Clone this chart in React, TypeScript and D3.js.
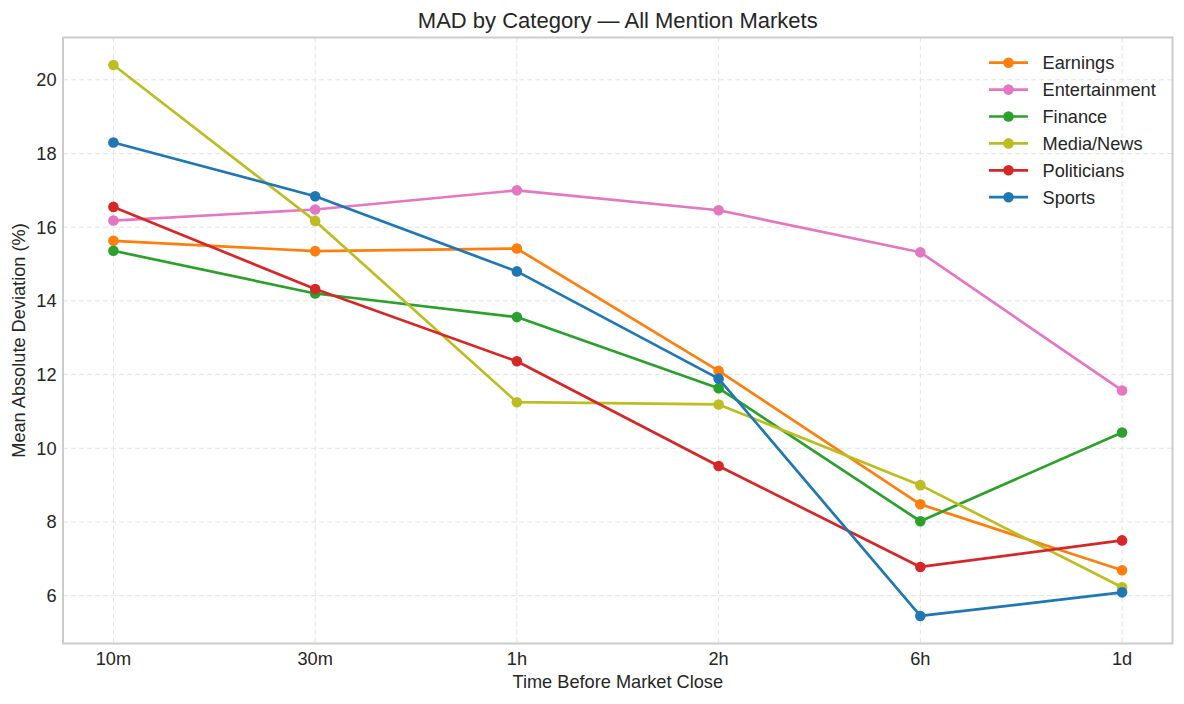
import React from 'react';
import * as d3 from 'd3';

const categories = ['10m', '30m', '1h', '2h', '6h', '1d'];

const seriesNames = ['Earnings', 'Entertainment', 'Finance', 'Media/News', 'Politicians', 'Sports'];
const seriesColors = ['#ff7f0e', '#e377c2', '#2ca02c', '#bcbd22', '#d62728', '#1f77b4'];

const earnings = [15.63, 15.35, 15.42, 12.1, 8.48, 6.69];
const entertainment = [16.18, 16.48, 17.0, 16.46, 15.32, 11.57];
const finance = [15.36, 14.2, 13.56, 11.63, 8.02, 10.43];
const mediaNews = [20.4, 16.17, 11.25, 11.19, 9.0, 6.23];
const politicians = [16.55, 14.32, 12.36, 9.52, 6.78, 7.5];
const sports = [18.3, 16.84, 14.8, 11.89, 5.45, 6.09];

const seriesValues = [earnings, entertainment, finance, mediaNews, politicians, sports];

const yTicks = [6, 8, 10, 12, 14, 16, 18, 20];

const W = 1184;
const H = 704;
const plot = { left: 63, right: 1172.5, top: 37.5, bottom: 643.5 };
const font = '"Liberation Sans", Arial, sans-serif';
const textColor = '#262626';
const fs = 18.2;

const App: React.FC = () => {
  const x = d3.scaleLinear()
    .domain([-0.25, categories.length - 0.75])
    .range([plot.left, plot.right]);

  const allVals = seriesValues.flat();
  const lo = d3.min(allVals)!;
  const hi = d3.max(allVals)!;
  const pad = (hi - lo) * 0.05;
  const y = d3.scaleLinear()
    .domain([lo - pad, hi + pad])
    .range([plot.bottom, plot.top]);

  const line = d3.line<number>()
    .x((_, i) => x(i))
    .y(d => y(d));

  return (
    <svg width={W} height={H} style={{ position: 'absolute', left: 0, top: 0, background: '#fff' }}>
      {/* grid */}
      <g stroke="#e3e3e3" strokeWidth={1} strokeDasharray="5,3">
        {yTicks.map(t => (
          <line key={'gy' + t} x1={plot.left} x2={plot.right} y1={y(t)} y2={y(t)} />
        ))}
        {categories.map((c, i) => (
          <line key={'gx' + c} x1={x(i)} x2={x(i)} y1={plot.top} y2={plot.bottom} />
        ))}
      </g>

      {/* series */}
      {seriesValues.map((vals, si) => (
        <g key={seriesNames[si]}>
          <path d={line(vals)!} fill="none" stroke={seriesColors[si]} strokeWidth={2.7}
            strokeLinejoin="round" strokeLinecap="round" />
          {vals.map((v, i) => (
            <circle key={i} cx={x(i)} cy={y(v)} r={5.3} fill={seriesColors[si]} />
          ))}
        </g>
      ))}

      {/* frame */}
      <rect x={plot.left} y={plot.top} width={plot.right - plot.left} height={plot.bottom - plot.top}
        fill="none" stroke="#cccccc" strokeWidth={2} />

      {/* y ticks */}
      {yTicks.map(t => (
        <text key={'ty' + t} x={56.5} y={y(t)} dy="0.35em" textAnchor="end"
          fontFamily={font} fontSize={fs} fill={textColor}>{t}</text>
      ))}

      {/* x ticks */}
      {categories.map((c, i) => (
        <text key={'tx' + c} x={x(i)} y={664.5} textAnchor="middle"
          fontFamily={font} fontSize={fs} fill={textColor}>{c}</text>
      ))}

      {/* axis labels */}
      <text x={(plot.left + plot.right) / 2} y={688} textAnchor="middle"
        fontFamily={font} fontSize={fs} fill={textColor}>Time Before Market Close</text>
      <text transform={`translate(25,${(plot.top + plot.bottom) / 2}) rotate(-90)`} textAnchor="middle"
        fontFamily={font} fontSize={fs} fill={textColor}>Mean Absolute Deviation (%)</text>

      {/* title */}
      <text x={(plot.left + plot.right) / 2} y={27.5} textAnchor="middle"
        fontFamily={font} fontSize={22} fill={textColor}>MAD by Category — All Mention Markets</text>

      {/* legend */}
      {seriesNames.map((name, i) => {
        const ly = 62.7 + i * 26.9;
        return (
          <g key={'lg' + name}>
            <line x1={989} x2={1028} y1={ly} y2={ly} stroke={seriesColors[i]} strokeWidth={2.7} />
            <circle cx={1008.5} cy={ly} r={5.3} fill={seriesColors[i]} />
            <text x={1042.5} y={ly} dy="0.35em" fontFamily={font} fontSize={fs} fill={textColor}>{name}</text>
          </g>
        );
      })}
    </svg>
  );
};

export default App;
